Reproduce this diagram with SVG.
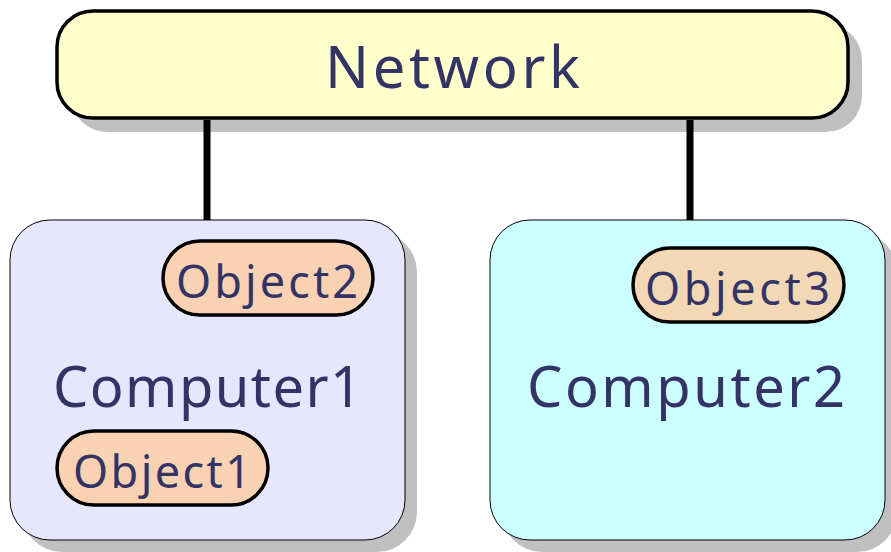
<svg xmlns="http://www.w3.org/2000/svg" width="891" height="552" viewBox="0 0 891 552">
  <style>
    .shadow { fill: #c0c0c0; }
    .label { font-family: "Comic Sans MS", "Noto Sans", "Liberation Sans", sans-serif; fill: #333366; }
    .net { fill: #ffffcc; stroke: #000; stroke-width: 3.5; }
    .comp { stroke: #000; stroke-width: 1; }
    .obj { stroke: #000; stroke-width: 3.5; }
    .link { stroke: #000; stroke-width: 7; fill: none; }
  </style>
  <rect width="891" height="552" fill="#fff"/>

  <g id="network">
    <rect class="shadow" x="71" y="24" width="791" height="108" rx="36"/>
    <rect class="net" x="57" y="11" width="791" height="107" rx="36"/>
    <text class="label" x="325" y="88" font-size="58" textLength="255" lengthAdjust="spacing">Network</text>
  </g>

  <!-- connectors between the network bus and the machines -->
  <g id="connectors">
    <line class="link" x1="207" y1="120" x2="207" y2="220"/>
    <line class="link" x1="690" y1="120" x2="690" y2="220"/>
  </g>

  <g id="computer1">
    <rect class="shadow" x="22" y="232" width="395" height="320" rx="40"/>
    <rect class="comp" x="10" y="220" width="395" height="320" rx="40" fill="#e6e6ff"/>
    <text class="label" x="53" y="407" font-size="56" textLength="309" lengthAdjust="spacing">Computer1</text>
  </g>

  <g id="object2">
    <rect class="obj" x="163" y="241" width="210" height="74" rx="37" fill="#f8d2b2"/>
    <text class="label" x="176" y="298" font-size="45" textLength="182" lengthAdjust="spacing">Object2</text>
  </g>

  <g id="object1">
    <rect class="obj" x="57" y="431" width="211" height="74" rx="37" fill="#f8d2b2"/>
    <text class="label" x="73" y="488" font-size="45" textLength="178" lengthAdjust="spacing">Object1</text>
  </g>

  <g id="computer2">
    <rect class="shadow" x="502" y="232" width="395" height="320" rx="40"/>
    <rect class="comp" x="490" y="220" width="395" height="320" rx="40" fill="#ccffff"/>
    <text class="label" x="527" y="407" font-size="56" textLength="318" lengthAdjust="spacing">Computer2</text>
  </g>

  <g id="object3">
    <rect class="obj" x="633" y="248" width="211" height="74" rx="37" fill="#f2d8b4"/>
    <text class="label" x="645" y="305" font-size="45" textLength="185" lengthAdjust="spacing">Object3</text>
  </g>
</svg>
